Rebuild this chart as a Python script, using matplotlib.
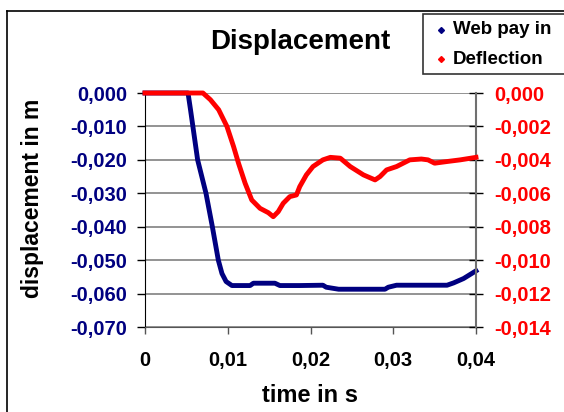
import numpy as np
import matplotlib.pyplot as plt
from matplotlib.lines import Line2D
from matplotlib.patches import Rectangle

plt.rcParams['font.family'] = ['Liberation Sans', 'DejaVu Sans']
plt.rcParams['font.weight'] = 'bold'

# web pay in (left axis, m)
t_web = [0, 0.0052, 0.0055, 0.00636, 0.00737, 0.00814, 0.00886,
         0.0093, 0.0098, 0.0105, 0.0127, 0.0131, 0.0157, 0.0163, 0.0187,
         0.0215, 0.0219, 0.0234, 0.0290, 0.0294, 0.0304, 0.0365, 0.0373,
         0.0385, 0.0400]
v_web = [0, 0, -0.0050, -0.0200, -0.0300, -0.0400, -0.0500,
         -0.0540, -0.0564, -0.0576, -0.0576, -0.0569, -0.0569, -0.0576, -0.0576,
         -0.0575, -0.0581, -0.0587, -0.0587, -0.0581, -0.0575, -0.0575, -0.0568,
         -0.0555, -0.0532]

# deflection (right axis, m)
t_def = [0, 0.0070, 0.0079, 0.0089, 0.0099, 0.0107, 0.0113, 0.0121, 0.0129,
         0.0139, 0.0149, 0.0155, 0.0161, 0.0167, 0.0175, 0.0183, 0.0187,
         0.0195, 0.0203, 0.0215, 0.0224, 0.0236, 0.0248, 0.0264, 0.0278,
         0.0284, 0.0292, 0.0304, 0.0320, 0.0334, 0.0342, 0.0350, 0.0365,
         0.0381, 0.0400]
v_def = [0, 0, -0.0004, -0.0010, -0.0020, -0.0032, -0.0042, -0.0054, -0.0064,
         -0.0069, -0.00716, -0.0074, -0.0071, -0.0066, -0.0062, -0.0061, -0.0056,
         -0.0049, -0.0044, -0.0040, -0.00385, -0.0039, -0.0044, -0.0049, -0.0052,
         -0.0050, -0.0046, -0.0044, -0.0040, -0.00395, -0.0040, -0.0042, -0.0041,
         -0.0040, -0.00385]

x_ticks = [0, 0.01, 0.02, 0.03, 0.04]
x_labels = ['0', '0,01', '0,02', '0,03', '0,04']
left_ticks = [0, -0.01, -0.02, -0.03, -0.04, -0.05, -0.06, -0.07]
left_labels = ['0,000', '-0,010', '-0,020', '-0,030', '-0,040', '-0,050', '-0,060', '-0,070']
right_ticks = [0, -0.002, -0.004, -0.006, -0.008, -0.010, -0.012, -0.014]
right_labels = ['0,000', '-0,002', '-0,004', '-0,006', '-0,008', '-0,010', '-0,012', '-0,014']

navy = '#000080'
red = '#ff0000'
W, H = 564, 412

fig = plt.figure(figsize=(W / 100, H / 100), dpi=100)
ax = fig.add_axes([145 / W, (H - 327) / H, 331 / W, 234 / H])
ax2 = ax.twinx()

ax.set_xlim(0, 0.04)
ax.set_ylim(-0.07, 0)
ax2.set_ylim(-0.014, 0)

ax.set_yticks(left_ticks)
ax.set_yticklabels(left_labels, color=navy, fontsize=14.5, fontweight='bold')
ax2.set_yticks(right_ticks)
ax2.set_yticklabels(right_labels, color=red, fontsize=14.5, fontweight='bold')
ax.set_xticks(x_ticks)
ax.set_xticklabels(x_labels, fontsize=14.5, fontweight='bold')

ax.grid(axis='y', color='#808080', linewidth=1.2)
ax.set_axisbelow(True)
for s in ['top']:
    ax.spines[s].set_visible(False)
    ax2.spines[s].set_visible(False)
ax.spines['right'].set_visible(False)
ax2.spines['left'].set_visible(False)
ax2.spines['bottom'].set_visible(False)
ax.spines['left'].set_color('black')
ax.spines['bottom'].set_color('#555555')
ax2.spines['right'].set_color('#707070')
ax2.spines['right'].set_linewidth(1.5)

ax.tick_params(axis='y', direction='out', length=6, width=1, pad=7, color='black')
ax.tick_params(axis='x', direction='out', length=5, width=1, pad=12, color='#555555')
ax2.tick_params(axis='y', direction='inout', length=10, width=1, pad=8, color='black')

ax.plot(t_web, v_web, color=navy, linewidth=3.5, clip_on=False, zorder=3)
ax2.plot(t_def, v_def, color=red, linewidth=3.5, clip_on=False, zorder=3)

fig.text(300 / W, 1 - 42 / H, 'Displacement', ha='center', va='center',
         fontsize=20, fontweight='bold')
fig.text(310 / W, 1 - 395 / H, 'time in s', ha='center', va='center',
         fontsize=17, fontweight='bold')
fig.text(33 / W, 1 - 198 / H, 'displacement in m', ha='center', va='center',
         rotation=90, fontsize=16.5, fontweight='bold')

# outer frame
fig.add_artist(Line2D([7 / W, 1], [1 - 11 / H, 1 - 11 / H], color='black', linewidth=1.2))
fig.add_artist(Line2D([7 / W, 7 / W], [0, 1 - 11 / H], color='black', linewidth=1.2))

# legend box
fig.add_artist(Rectangle((423 / W, 1 - 74 / H), 150 / W, 60 / H, transform=fig.transFigure,
                         facecolor='white', edgecolor='#333333', linewidth=1.2))
fig.add_artist(Line2D([441 / W], [1 - 30 / H], marker='D', markersize=3,
                      color=navy, linestyle='none'))
fig.add_artist(Line2D([441 / W], [1 - 59 / H], marker='D', markersize=3,
                      color=red, linestyle='none'))
fig.text(453 / W, 1 - 30 / H, 'Web pay in', ha='left', va='center',
         fontsize=13.5, fontweight='bold')
fig.text(453 / W, 1 - 59 / H, 'Deflection', ha='left', va='center',
         fontsize=13.5, fontweight='bold')

fig.savefig('out.png', dpi=100)
